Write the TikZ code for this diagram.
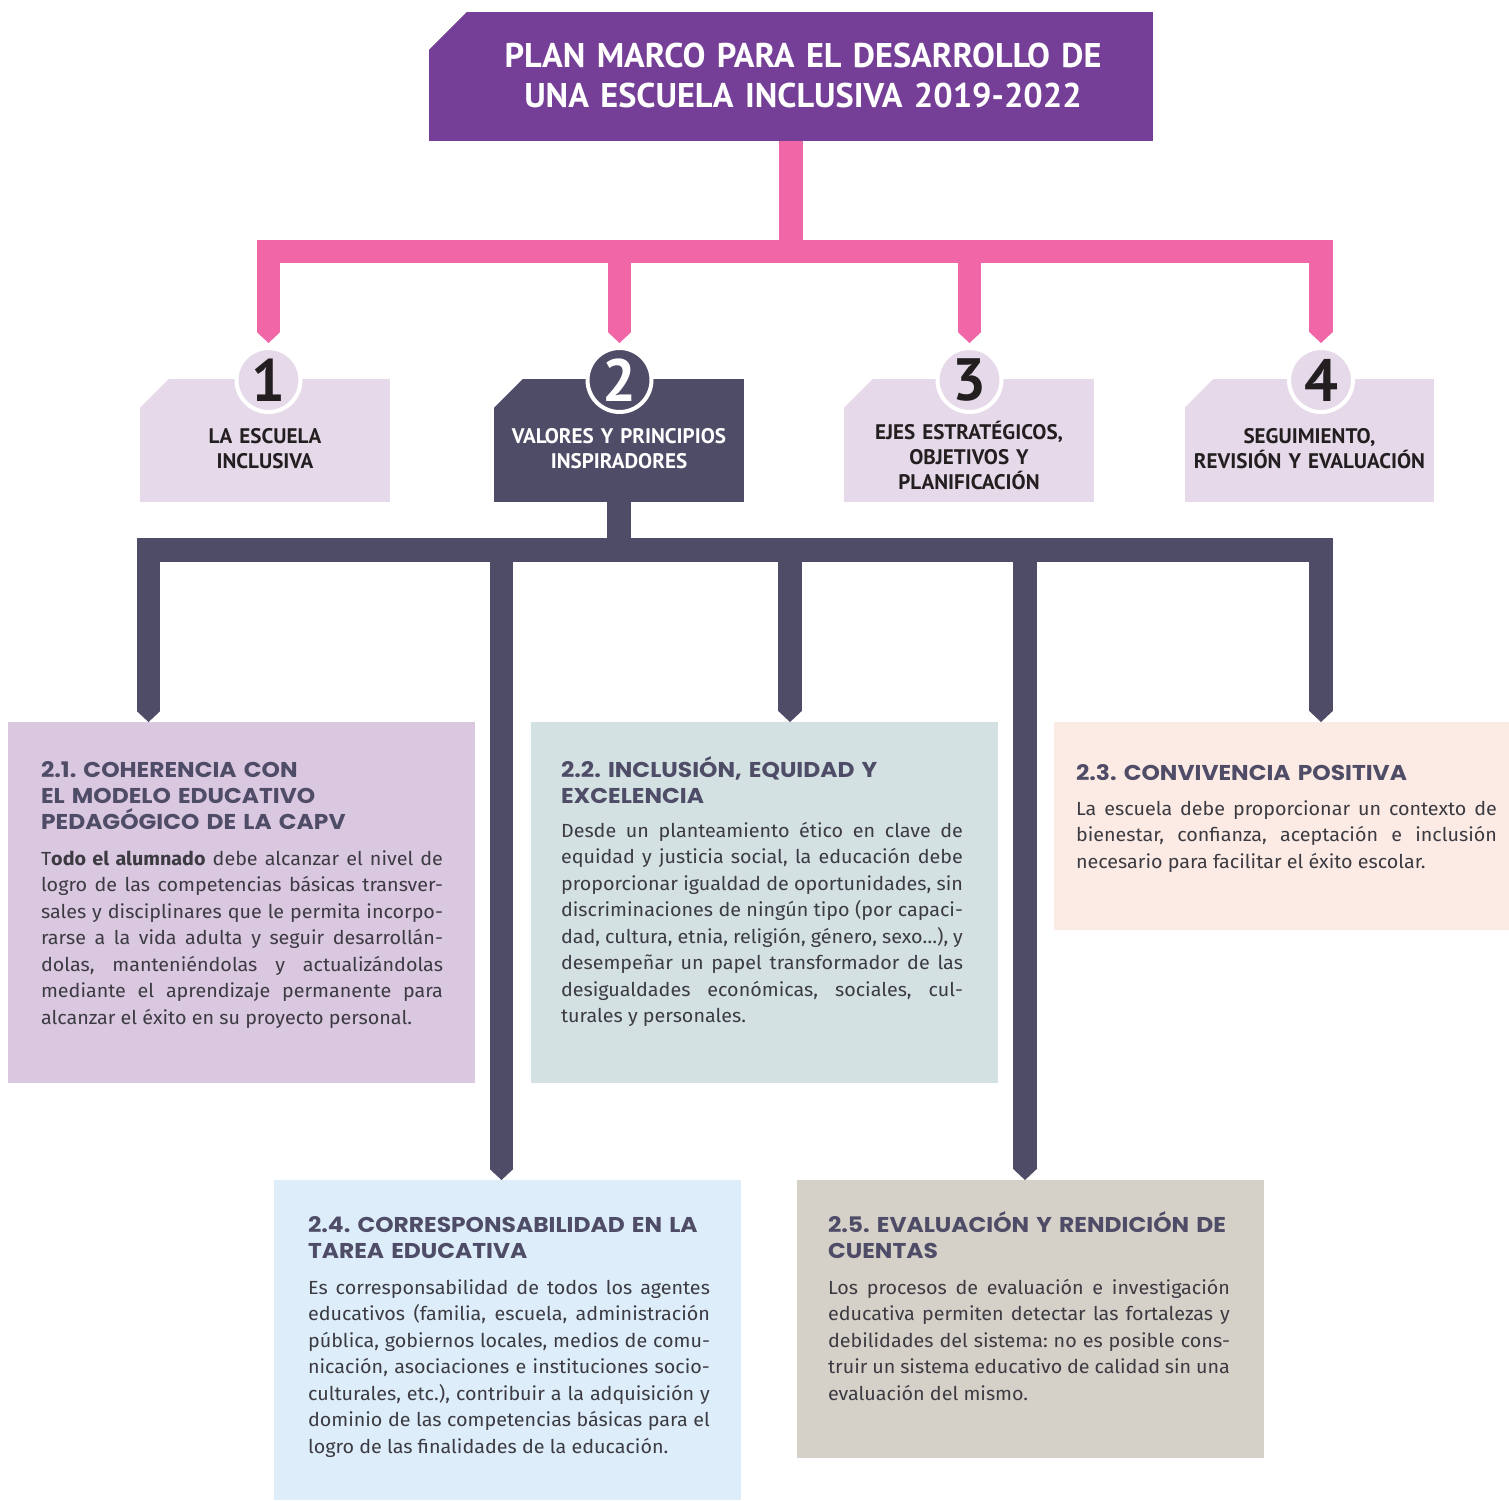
\documentclass[tikz,border=0pt]{standalone}
\usepackage{fontspec}
\setmainfont{Fira Sans}[FakeStretch=1.04]
\newfontfamily\condfont{PT Sans}
\newfontfamily\headfont{Poppins}[FakeStretch=1.09]
\usepackage{tikz}
\usetikzlibrary{arrows.meta, calc, positioning}
\usepackage{xcolor}

\definecolor{planpurple}{HTML}{763F97}
\definecolor{planpink}{HTML}{F066A6}
\definecolor{plandark}{HTML}{4F4C67}
\definecolor{lavlight}{HTML}{E6DAEA}
\definecolor{lavbox}{HTML}{DAC7E0}
\definecolor{greybox}{HTML}{D3E1E3}
\definecolor{peachbox}{HTML}{FBEBE4}
\definecolor{bluebox}{HTML}{DDEEFA}
\definecolor{sandbox}{HTML}{D5D1C9}
\definecolor{inktext}{HTML}{3C3B42}
\definecolor{labelink}{HTML}{231F20}

\hyphenpenalty=10000
\tolerance=10000
\frenchspacing

\begin{document}
\begin{tikzpicture}[x=0.02cm, y=-0.02cm,
  every node/.style={inner sep=0pt, outer sep=0pt},
  cutbox/.style={path picture={\fill[white] (path picture bounding box.north west) -- ++(#1,0) -- ++(-#1,-#1) -- cycle;}},
  titlebox/.style={fill=planpurple, minimum width=14.48cm, minimum height=2.58cm, cutbox=0.75cm},
  rowbox/.style={minimum width=5cm, minimum height=2.46cm, cutbox=0.57cm},
  numcirc/.style={circle, draw=white, line width=0.08cm, minimum size=1.28cm, font=\condfont\bfseries\fontsize{34}{34}\selectfont},
  rowlabel/.style={text width=5cm, align=center, anchor=base, font=\condfont\bfseries\fontsize{12}{14.5}\selectfont},
  headtext/.style={anchor=base west, text width=9cm, align=left, text=plandark, font=\headfont\bfseries\fontsize{12.2}{14.8}\selectfont},
  bodytext/.style={anchor=base west, text width=8.04cm, align=justify, text=inktext, font=\fontsize{10.8}{15.1}\selectfont},
  pinkbar/.style={color=planpink, line width=0.47cm},
  darkbar/.style={color=plandark, line width=0.47cm},
  pointed/.style={-{Triangle[length=0.22cm, width=0.47cm, line width=0pt]}}
]
\useasboundingbox (0,0) rectangle (1509,1501);

% title
\node[titlebox] (title) at (791,76.5) {};
\node[text width=14cm, align=center, anchor=base, text=white, font=\condfont\bfseries\fontsize{19.5}{23.3}\selectfont] (titletxt) at (803,67) {PLAN MARCO PARA EL DESARROLLO DE\\UNA ESCUELA INCLUSIVA 2019-2022};

% four axes
\node[rowbox, fill=lavlight] (b1) at (265,440.5) {};
\node[rowbox, fill=plandark] (b2) at (619,440.5) {};
\node[rowbox, fill=lavlight] (b3) at (969,440.5) {};
\node[rowbox, fill=lavlight] (b4) at (1309.5,440.5) {};
\node[rowlabel, text=labelink] (t1) at ($(b1.north)+(0,64)$) {LA ESCUELA\\INCLUSIVA};
\node[rowlabel, text=white] (t2) at ($(b2.north)+(0,64)$) {VALORES Y PRINCIPIOS\\INSPIRADORES};
\node[rowlabel, text=labelink] (t3) at ($(b3.north)+(0,60)$) {EJES ESTRATÉGICOS,\\OBJETIVOS Y\\PLANIFICACIÓN};
\node[rowlabel, text=labelink] (t4) at ($(b4.north)+(0,64)$) {SEGUIMIENTO,\\REVISIÓN Y EVALUACIÓN};
\node[numcirc, fill=lavlight, text=labelink] (n1) at (268.5,380) {1};
\node[numcirc, fill=plandark, text=white] (n2) at (619.5,380) {2};
\node[numcirc, fill=lavlight, text=labelink] (n3) at (969.5,380) {3};
\node[numcirc, fill=lavlight, text=labelink] (n4) at (1321,380) {4};

% values and principles
\node[minimum width=9.34cm, minimum height=7.22cm, fill=lavbox] (b21) at (241.5,902.5) {};
\node[minimum width=9.34cm, minimum height=7.22cm, fill=greybox] (b22) at (764.5,902.5) {};
\node[minimum width=9.1cm, minimum height=4.16cm, fill=peachbox] (b23) at (1281.5,826) {};
\node[minimum width=9.34cm, minimum height=6.4cm, fill=bluebox] (b24) at (507.5,1340) {};
\node[minimum width=9.34cm, minimum height=5.56cm, fill=sandbox] (b25) at (1030.5,1319) {};

\node[headtext] (h21) at ($(b21.north west)+(33,55)$) {2.1. COHERENCIA CON\\EL MODELO EDUCATIVO\\PEDAGÓGICO DE LA CAPV};
\node[bodytext] (p21) at ($(b21.north west)+(33,143)$) {T\textbf{odo el alumnado} debe alcanzar el nivel de\linebreak logro de las competencias básicas transver-\linebreak sales y disciplinares que le permita incorpo-\linebreak rarse a la vida adulta y seguir desarrollán-\linebreak dolas, manteniéndolas y actualizándolas\linebreak mediante el aprendizaje permanente para\linebreak alcanzar el éxito en su proyecto personal.};

\node[headtext] (h22) at ($(b22.north west)+(30,55)$) {2.2. INCLUSIÓN, EQUIDAD Y\\EXCELENCIA};
\node[bodytext] (p22) at ($(b22.north west)+(30,115)$) {Desde un planteamiento ético en clave de\linebreak equidad y justicia social, la educación debe\linebreak proporcionar igualdad de oportunidades, sin\linebreak discriminaciones de ningún tipo (por capaci-\linebreak dad, cultura, etnia, religión, género, sexo…), y\linebreak desempeñar un papel transformador de las\linebreak desigualdades económicas, sociales, cul-\linebreak turales y personales.};

\node[headtext] (h23) at ($(b23.north west)+(22,58)$) {2.3. CONVIVENCIA POSITIVA};
\node[bodytext, text width=8.42cm] (p23) at ($(b23.north west)+(22,93)$) {La escuela debe proporcionar un contexto de\linebreak bienestar, confianza, aceptación e inclusión\linebreak necesario para facilitar el éxito escolar.};

\node[headtext] (h24) at ($(b24.north west)+(34,52)$) {2.4. CORRESPONSABILIDAD EN LA\\TAREA EDUCATIVA};
\node[bodytext] (p24) at ($(b24.north west)+(34,114)$) {Es corresponsabilidad de todos los agentes\linebreak educativos (familia, escuela, administración\linebreak pública, gobiernos locales, medios de comu-\linebreak nicación, asociaciones e instituciones socio-\linebreak culturales, etc.), contribuir a la adquisición y\linebreak dominio de las competencias básicas para el\linebreak logro de las finalidades de la educación.};

\node[headtext] (h25) at ($(b25.north west)+(31,52)$) {2.5. EVALUACIÓN Y RENDICIÓN DE\\CUENTAS};
\node[bodytext] (p25) at ($(b25.north west)+(31,114)$) {Los procesos de evaluación e investigación\linebreak educativa permiten detectar las fortalezas y\linebreak debilidades del sistema: no es posible cons-\linebreak truir un sistema educativo de calidad sin una\linebreak evaluación del mismo.};

% pink tree
\coordinate (pinkbus) at (0,251.5);
\draw[pinkbar] (title.south) -- (title.south |- pinkbus);
\draw[pinkbar, line cap=rect] (n1 |- pinkbus) -- (n4 |- pinkbus);
\foreach \n in {n1,n2,n3,n4}
  \draw[pinkbar, pointed, shorten >=0.1cm] (\n |- pinkbus) -- (\n.north);

% dark tree
\coordinate (darkbus) at (0,550);
\coordinate (d1) at (148.5,550);
\coordinate (d2) at (501.5,550);
\coordinate (d3) at (790,550);
\coordinate (d4) at (1025,550);
\coordinate (d5) at (1321,550);
\draw[darkbar] (b2.south) -- (b2.south |- darkbus);
\draw[darkbar, line cap=rect] (d1) -- (d5);
\draw[darkbar, pointed] (d1) -- (d1 |- b21.north);
\draw[darkbar, pointed] (d2) -- (d2 |- b24.north);
\draw[darkbar, pointed] (d3) -- (d3 |- b22.north);
\draw[darkbar, pointed] (d4) -- (d4 |- b25.north);
\draw[darkbar, pointed] (d5) -- (d5 |- b23.north);
\end{tikzpicture}
\end{document}
